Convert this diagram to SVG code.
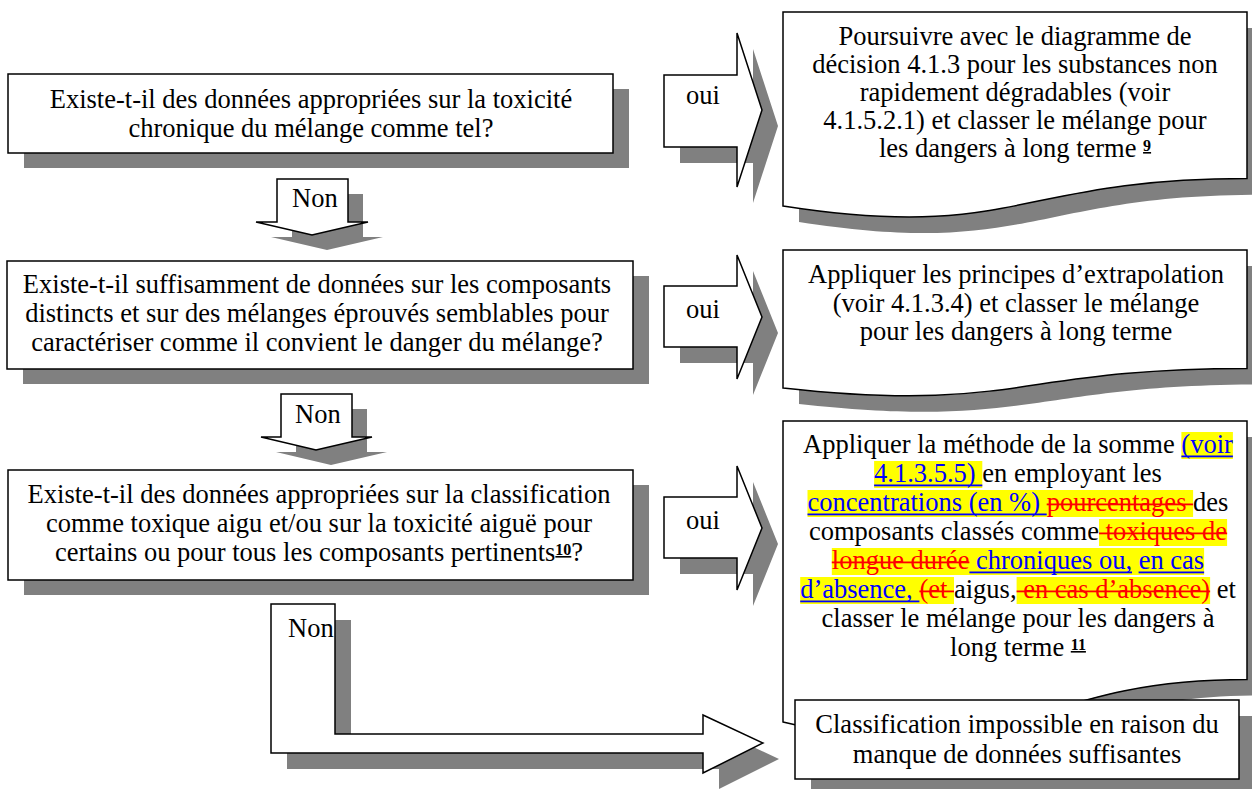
<svg xmlns="http://www.w3.org/2000/svg" xmlns:xlink="http://www.w3.org/1999/xlink" width="1252" height="789" viewBox="0 0 1252 789">
<style>
.sh{fill:#808080;stroke:none}
.bx{fill:#fff;stroke:#000;stroke-width:1.5}
text{font-family:"Liberation Serif","Times New Roman",serif;font-size:26.5px;fill:#000}
.c{text-anchor:middle}
.sup{font-size:16px;font-weight:bold;text-decoration:underline}
.hl{fill:#ffff00}
.ul{fill:#0000ff}
.st{fill:#ff0000}
.b{fill:#0000ff}
.r{fill:#ff0000}
</style>
<defs>
<rect id="L1" x="8" y="74" width="605" height="79"/>
<rect id="L2" x="7" y="261" width="626" height="108"/>
<rect id="L3" x="8" y="470" width="625" height="110"/>
<path id="R1" d="M783,12 H1247 V178.6 C1015,178.6 1015,242 783,206 Z"/>
<path id="R2" d="M783,250 H1247 V368.5 C1015,368.5 1015,413.6 783,388 Z"/>
<path id="R3" d="M783,421 H1247 V679.5 C1015,679.5 1015,778 783,722 Z"/>
<rect id="R4" x="795" y="700" width="444" height="79"/>
<path id="A1" d="M664,75 H737 V33 L762,110 L737,187 V147 H664 Z"/>
<path id="A2" d="M664,286 H737 V255 L762,317 L737,379 V347 H664 Z"/>
<path id="A3" d="M664,497 H737 V466 L762,528 L737,590 V558 H664 Z"/>
<path id="N1" d="M277,179 H348 V222 H368 L312,235 L256,222 H277 Z"/>
<path id="N2" d="M281,394 H352 V437 H372 L316,450 L261,437 H281 Z"/>
<path id="N3" d="M271,604 H335 V734 H703 V715 L763,743 L703,773 V753 H271 Z"/>
</defs>
<rect x="0" y="0" width="1252" height="789" fill="#fff"/>

<g id="q1">
<use xlink:href="#L1" class="sh" transform="translate(16,15)"/>
<use xlink:href="#L1" class="bx"/>
<text class="c" x="311" y="108">Existe-t-il des données appropriées sur la toxicité</text>
<text class="c" x="311" y="137">chronique du mélange comme tel?</text>
</g>

<g id="q2">
<use xlink:href="#L2" class="sh" transform="translate(16,15)"/>
<use xlink:href="#L2" class="bx"/>
<text class="c" x="317" y="293">Existe-t-il suffisamment de données sur les composants</text>
<text class="c" x="317" y="322">distincts et sur des mélanges éprouvés semblables pour</text>
<text class="c" x="317" y="351">caractériser comme il convient le danger du mélange?</text>
</g>

<g id="q3">
<use xlink:href="#L3" class="sh" transform="translate(16,15)"/>
<use xlink:href="#L3" class="bx"/>
<text class="c" x="319" y="503">Existe-t-il des données appropriées sur la classification</text>
<text class="c" x="319" y="532">comme toxique aigu et/ou sur la toxicité aiguë pour</text>
<text class="c" x="319" y="561">certains ou pour tous les composants pertinents<tspan class="sup" dy="-6">10</tspan><tspan dy="6">?</tspan></text>
</g>

<g id="connectors">
<g id="oui1">
<use xlink:href="#A1" class="sh" transform="translate(16,16)"/>
<use xlink:href="#A1" class="bx"/>
<text x="686" y="104">oui</text>
</g>
<g id="oui2">
<use xlink:href="#A2" class="sh" transform="translate(16,16)"/>
<use xlink:href="#A2" class="bx"/>
<text x="686" y="318">oui</text>
</g>
<g id="oui3">
<use xlink:href="#A3" class="sh" transform="translate(16,16)"/>
<use xlink:href="#A3" class="bx"/>
<text x="686" y="529">oui</text>
</g>
<g id="non1">
<use xlink:href="#N1" class="sh" transform="translate(15,15)"/>
<use xlink:href="#N1" class="bx"/>
<text x="292" y="207">Non</text>
</g>
<g id="non2">
<use xlink:href="#N2" class="sh" transform="translate(15,15)"/>
<use xlink:href="#N2" class="bx"/>
<text x="295" y="423">Non</text>
</g>
<g id="non3">
<use xlink:href="#N3" class="sh" transform="translate(16,16)"/>
<use xlink:href="#N3" class="bx"/>
<text x="288" y="637">Non</text>
</g>
</g>

<g id="r1">
<use xlink:href="#R1" class="sh" transform="translate(16,16)"/>
<use xlink:href="#R1" class="bx"/>
<text class="c" x="1015" y="45">Poursuivre avec le diagramme de</text>
<text class="c" x="1015" y="73">décision 4.1.3 pour les substances non</text>
<text class="c" x="1015" y="101">rapidement dégradables (voir</text>
<text class="c" x="1015" y="129">4.1.5.2.1) et classer le mélange pour</text>
<text class="c" x="1015" y="157">les dangers à long terme <tspan class="sup" dy="-6">9</tspan></text>
</g>

<g id="r2">
<use xlink:href="#R2" class="sh" transform="translate(16,16)"/>
<use xlink:href="#R2" class="bx"/>
<text class="c" x="1016" y="283">Appliquer les principes d’extrapolation</text>
<text class="c" x="1016" y="311.5">(voir 4.1.3.4) et classer le mélange</text>
<text class="c" x="1016" y="340">pour les dangers à long terme</text>
</g>

<g id="r3">
<use xlink:href="#R3" class="sh" transform="translate(16,16)"/>
<use xlink:href="#R3" class="bx"/>
<rect class="hl" x="1181.4" y="432" width="51.5" height="27"/>
<rect class="hl" x="874.1" y="461" width="108.2" height="27"/>
<rect class="hl" x="807.5" y="490" width="385.6" height="27"/>
<rect class="hl" x="1099" y="519" width="128.1" height="27"/>
<rect class="hl" x="831.8" y="548" width="372.3" height="27"/>
<rect class="hl" x="800.2" y="577" width="153.8" height="27"/>
<rect class="hl" x="1016.6" y="577" width="193.5" height="27"/>
<text x="803.1" y="453">Appliquer la méthode de la somme <tspan class="b">(voir</tspan></text>
<text x="874.1" y="482"><tspan class="b">4.1.3.5.5) </tspan>en employant les</text>
<text x="807.5" y="511"><tspan class="b">concentrations (en %) </tspan><tspan class="r">pourcentages </tspan>des</text>
<text x="809" y="540">composants classés comme<tspan class="r"> toxiques de</tspan></text>
<text x="831.8" y="569"><tspan class="r">longue durée</tspan><tspan class="b"> chroniques ou, en cas</tspan></text>
<text x="800.2" y="598"><tspan class="b">d’absence, </tspan><tspan class="r">(et </tspan>aigus,<tspan class="r"> en cas d’absence)</tspan> et</text>
<text class="c" x="1018" y="627">classer le mélange pour les dangers à</text>
<text class="c" x="1018" y="656">long terme <tspan class="sup" dy="-6">11</tspan></text>
<rect class="ul" x="1181.4" y="455.5" width="51.5" height="1.8"/>
<rect class="ul" x="874.1" y="484.5" width="108.2" height="1.8"/>
<rect class="ul" x="807.5" y="513.5" width="239.2" height="1.8"/>
<rect class="st" x="1046.7" y="503.5" width="146.4" height="1.8"/>
<rect class="st" x="1099" y="532.5" width="128.1" height="1.8"/>
<rect class="st" x="831.8" y="561.5" width="137.6" height="1.8"/>
<rect class="ul" x="969.4" y="571.5" width="162.6" height="1.8"/>
<rect class="ul" x="1138.6" y="571.5" width="65.5" height="1.8"/>
<rect class="ul" x="800.2" y="600.5" width="119.2" height="1.8"/>
<rect class="st" x="919.4" y="590.5" width="34.6" height="1.8"/>
<rect class="st" x="1016.6" y="590.5" width="193.5" height="1.8"/>
</g>

<g id="r4">
<use xlink:href="#R4" class="sh" transform="translate(16,16)"/>
<use xlink:href="#R4" class="bx"/>
<text class="c" x="1017" y="733">Classification impossible en raison du</text>
<text class="c" x="1017" y="763">manque de données suffisantes</text>
</g>
</svg>
